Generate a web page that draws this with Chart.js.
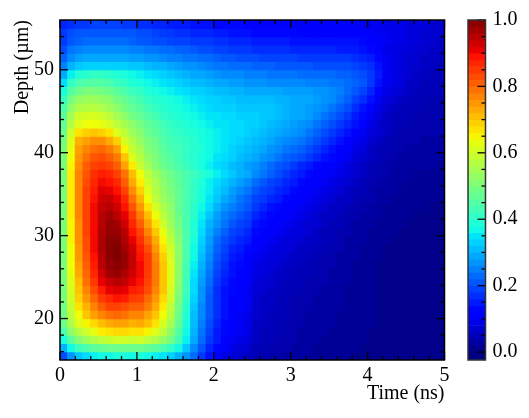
<!DOCTYPE html>
<html>
<head>
<meta charset="utf-8">
<style>
  html, body { margin: 0; padding: 0; background: #fff; overflow: hidden; }
  canvas { position: absolute; top: 0; }
  #heatmap { left: 0; }
  #colorbar { left: 445px; }
</style>
<script src="https://cdn.jsdelivr.net/npm/chart.js@4"></script>
</head>
<body>
<canvas id="heatmap" width="460" height="418"></canvas>
<canvas id="colorbar" width="84" height="418"></canvas>
<script>
// column centres, ns
const times = [0.05,0.15,0.25,0.35,0.45,0.55,0.65,0.75,0.85,0.95,1.05,1.15,1.25,1.35,1.45,1.55,1.65,1.75,1.85,1.95,2.05,2.15,2.25,2.35,2.45,2.55,2.65,2.75,2.85,2.95,3.05,3.15,3.25,3.35,3.45,3.55,3.65,3.75,3.85,3.95,4.05,4.15,4.25,4.35,4.45,4.55,4.65,4.75,4.85,4.95];
// lower edge of each row, um
const depths = [15,16,17,18,19,20,21,22,23,24,25,26,27,28,29,30,31,32,33,34,35,36,37,38,39,40,41,42,43,44,45,46,47,48,49,50,51,52,53,54,55];

// intensity in percent, one array per depth row
const d55 = [16,17,18,18,19,19,19,19,18,18,17,17,16,16,15,15,15,14,14,14,13,13,13,13,12,12,12,12,12,12,12,11,11,11,11,11,11,11,11,10,10,10,9,9,9,8,8,8,7,7];
const d54 = [18,20,21,21,21,21,21,21,21,21,20,20,19,18,18,17,17,16,16,16,15,15,14,14,14,13,13,13,13,13,13,12,12,12,12,12,12,12,11,11,11,10,10,9,9,8,8,7,7,7];
const d53 = [18,21,22,23,23,23,23,23,23,22,21,21,20,20,19,19,19,18,18,18,17,17,16,16,16,15,15,15,15,15,14,14,14,14,14,14,14,14,14,13,12,11,10,9,9,8,8,7,7,6];
const d52 = [20,24,25,26,26,26,26,26,26,25,25,24,24,23,23,22,22,21,20,20,19,19,18,18,18,17,17,17,17,17,16,16,16,16,16,16,15,15,15,14,13,11,9,9,8,8,7,7,6,6];
const d51 = [22,26,28,29,29,29,29,29,29,28,28,27,27,26,25,25,24,24,23,23,22,21,21,20,20,20,19,19,19,19,19,18,18,18,18,18,18,18,17,16,15,13,10,9,8,7,7,6,6,6];
const d50 = [25,30,32,33,33,33,33,33,33,32,32,31,30,30,29,28,27,27,26,25,24,24,23,23,23,22,22,22,21,21,21,21,21,20,20,20,20,20,19,18,17,14,10,9,8,7,7,6,6,5];
const d49 = [29,36,39,40,41,41,40,39,38,37,36,35,34,33,32,31,30,29,29,28,27,26,26,26,25,25,25,24,24,24,24,23,23,23,23,23,22,22,21,20,18,15,10,9,8,7,6,6,5,5];
const d48 = [34,41,44,45,45,45,44,42,41,39,38,37,36,35,34,33,32,31,31,30,29,29,28,28,27,27,27,26,26,26,26,26,25,25,25,24,24,23,22,21,18,14,10,9,8,6,6,5,5,5];
const d47 = [38,45,48,50,50,49,48,46,44,42,41,39,38,37,36,35,34,33,33,32,31,31,30,30,29,29,29,29,29,28,28,28,28,27,27,26,25,23,21,19,16,12,9,8,7,6,5,5,5,5];
const d46 = [41,49,53,54,54,53,52,49,47,45,43,41,40,39,38,37,36,35,34,33,33,32,32,31,31,31,31,31,30,30,29,29,29,28,27,26,24,22,19,17,14,10,8,7,6,5,5,5,4,4];
const d45 = [44,52,56,57,57,56,54,52,49,47,45,43,41,40,39,38,37,36,35,34,33,33,33,32,32,32,32,32,31,30,29,29,28,27,26,24,22,20,17,14,12,9,7,6,5,5,5,4,4,4];
const d44 = [46,55,60,61,61,60,58,55,52,49,47,45,43,41,40,39,38,37,36,35,35,34,34,33,33,33,32,32,31,30,29,29,28,26,24,22,20,18,15,13,10,8,6,5,5,5,4,4,4,4];
const d43 = [47,57,62,64,64,63,61,58,55,52,49,47,45,43,41,40,39,38,37,36,35,35,34,34,33,33,32,31,30,29,28,27,26,24,22,20,18,16,14,11,9,7,6,5,5,4,4,4,4,4];
const d42 = [48,60,67,69,70,69,67,62,58,54,51,48,46,44,42,41,40,39,38,37,36,35,34,34,33,32,31,30,29,28,27,26,24,22,20,18,16,14,12,10,8,7,6,5,4,4,4,4,4,4];
const d41 = [49,62,72,74,76,76,73,69,61,57,53,50,48,45,43,42,41,40,38,37,36,35,34,33,32,31,30,29,27,26,25,24,22,20,18,16,14,12,10,9,7,6,5,4,4,4,4,3,3,3];
const d40 = [50,63,74,77,79,80,78,74,65,59,55,51,49,46,44,43,41,40,39,37,36,35,33,32,31,30,29,27,26,24,23,22,20,18,16,14,12,11,9,8,6,5,5,4,4,3,3,3,3,3];
const d39 = [50,64,75,79,82,83,81,78,70,62,57,53,50,47,45,43,41,40,38,37,35,34,33,31,30,29,27,26,24,22,21,20,18,16,14,13,11,10,8,7,6,5,4,4,3,3,3,3,3,3];
const d38 = [50,65,76,81,84,85,84,81,74,66,59,55,51,48,46,44,42,40,38,36,34,33,31,30,28,27,25,23,21,20,18,16,15,13,12,11,10,8,7,6,5,4,4,3,3,3,3,3,3,2];
const d37 = [50,66,77,82,86,88,87,84,79,71,64,58,54,51,48,46,44,42,40,38,36,34,32,30,29,26,24,22,20,18,16,15,13,12,11,10,9,8,7,6,5,4,4,3,3,3,2,2,2,2];
const d36 = [50,66,77,83,87,90,89,87,81,73,66,60,56,52,49,46,44,41,39,36,34,32,30,28,26,23,21,19,18,16,15,13,12,11,10,9,8,7,6,5,4,4,3,3,3,2,2,2,2,2];
const d35 = [50,66,77,84,88,92,91,89,84,76,69,62,57,53,50,47,44,41,38,36,33,31,28,26,24,21,19,18,16,15,13,12,11,10,9,8,7,6,5,5,4,3,3,3,2,2,2,2,2,2];
const d34 = [50,66,77,84,89,93,94,91,87,79,72,64,58,54,51,47,44,41,38,35,32,29,27,24,22,19,18,16,15,13,12,11,10,9,8,7,6,6,5,4,4,3,3,2,2,2,2,2,2,2];
const d33 = [50,66,77,84,90,94,95,93,89,82,75,67,61,56,52,47,44,40,37,34,30,27,25,23,21,18,16,14,13,12,11,10,9,8,7,6,6,5,4,4,3,3,2,2,2,2,2,2,1,1];
const d32 = [50,66,77,84,90,95,97,95,91,85,78,71,64,58,53,48,44,40,36,32,28,25,23,21,19,16,14,13,12,11,10,9,8,7,6,6,5,4,4,3,3,3,2,2,2,2,1,1,1,1];
const d31 = [50,65,76,84,90,95,98,97,93,87,81,74,67,60,54,49,44,39,35,30,27,24,21,19,18,14,13,12,11,10,9,8,7,7,6,5,5,4,3,3,3,2,2,2,2,1,1,1,1,1];
const d30 = [50,65,76,84,90,96,98,98,95,89,84,77,70,63,56,50,44,39,34,29,25,22,19,18,16,13,12,11,10,9,8,8,7,6,5,5,4,4,3,3,2,2,2,2,1,1,1,1,1,1];
const d29 = [50,65,76,83,90,96,99,99,96,91,86,80,73,65,58,51,44,38,33,28,23,20,18,16,15,12,11,10,9,8,8,7,6,6,5,5,4,3,3,3,2,2,2,1,1,1,1,1,1,1];
const d28 = [50,64,75,83,90,96,99,100,97,93,88,83,75,67,60,52,44,37,32,27,22,19,16,15,13,11,10,9,8,8,7,6,6,5,5,4,4,3,3,2,2,2,1,1,1,1,1,1,1,1];
const d27 = [50,64,75,82,89,95,99,100,98,94,89,85,77,69,61,52,44,37,31,26,21,18,15,14,12,10,9,8,8,7,6,6,5,5,4,4,3,3,3,2,2,2,1,1,1,1,1,1,1,1];
const d26 = [50,64,74,81,88,95,98,99,98,94,90,85,78,70,62,52,43,36,30,25,20,17,14,13,12,9,8,8,7,6,6,5,5,4,4,4,3,3,2,2,2,1,1,1,1,1,1,1,1,1];
const d25 = [50,63,73,80,87,93,97,98,96,93,90,85,78,70,62,52,43,35,29,24,19,16,14,12,11,9,8,7,6,6,5,5,5,4,4,3,3,3,2,2,2,1,1,1,1,1,1,1,1,1];
const d24 = [50,62,71,79,85,91,94,95,94,91,89,84,78,70,62,52,42,34,28,23,18,15,13,12,11,8,7,7,6,5,5,5,4,4,4,3,3,3,2,2,2,1,1,1,1,1,1,1,1,1];
const d23 = [50,61,70,77,83,88,91,92,91,88,87,83,77,70,61,51,42,34,27,22,17,14,13,11,10,8,7,6,6,5,5,4,4,4,3,3,3,2,2,2,2,1,1,1,1,1,1,1,1,1];
const d22 = [50,60,69,75,80,85,87,89,88,85,84,80,75,68,60,50,41,33,27,21,17,14,12,11,10,7,6,6,5,5,4,4,4,3,3,3,3,2,2,2,2,1,1,1,1,1,1,1,1,1];
const d21 = [49,59,67,72,77,81,84,84,83,81,81,78,73,66,58,49,40,32,26,21,17,14,12,11,10,7,6,6,5,5,4,4,4,3,3,3,3,2,2,2,2,1,1,1,1,1,1,1,1,1];
const d20 = [49,58,64,70,74,77,79,80,79,77,77,74,70,64,57,48,39,31,26,21,17,14,12,10,9,7,6,5,5,5,4,4,3,3,3,3,2,2,2,2,2,1,1,1,1,1,1,1,1,1];
const d19 = [48,56,62,65,68,71,73,74,74,72,73,71,67,61,55,47,38,31,25,20,16,13,11,10,9,6,6,5,5,4,4,4,3,3,3,3,2,2,2,2,2,1,1,1,1,1,1,1,1,1];
const d18 = [44,52,57,60,63,66,67,68,68,67,67,65,62,58,52,45,37,30,24,19,15,13,11,10,9,6,5,5,5,4,4,3,3,3,3,2,2,2,2,2,1,1,1,1,1,1,1,1,1,1];
const d17 = [38,46,51,54,56,58,59,60,60,59,60,58,56,53,49,43,36,29,23,18,15,12,10,9,8,6,5,5,4,4,4,3,3,3,2,2,2,2,2,2,1,1,1,1,1,1,1,1,1,1];
const d16 = [30,37,42,44,46,47,48,48,48,48,48,47,46,44,41,37,32,26,21,16,13,11,9,8,7,5,5,4,4,4,3,3,3,2,2,2,2,2,2,1,1,1,1,1,1,1,1,1,1,1];
const d15 = [20,27,32,34,36,37,37,38,38,37,38,37,36,35,33,30,27,23,18,14,11,9,8,7,6,5,4,4,4,3,3,3,3,2,2,2,2,2,1,1,1,1,1,1,1,1,1,1,1,1];
const rows = [d15,d16,d17,d18,d19,d20,d21,d22,d23,d24,d25,d26,d27,d28,d29,d30,d31,d32,d33,d34,d35,d36,d37,d38,d39,d40,d41,d42,d43,d44,d45,d46,d47,d48,d49,d50,d51,d52,d53,d54,d55];

// tick labels and tick marks
const xMajor = [0,1,2,3,4,5];
const xMinor = [0.2,0.4,0.6,0.8,1.2,1.4,1.6,1.8,2.2,2.4,2.6,2.8,3.2,3.4,3.6,3.8,4.2,4.4,4.6,4.8];
const yMajor = [20,30,40,50];
const yMinor = [16,18,22,24,26,28,32,34,36,38,42,44,46,48,52,54];
const cbMajor = [0,0.2,0.4,0.6,0.8,1];
const cbMinor = [0.05,0.1,0.15,0.25,0.3,0.35,0.45,0.5,0.55,0.65,0.7,0.75,0.85,0.9,0.95];
// colour bar steps
const cbLevels = [-0.024,0,0.02,0.04,0.06,0.08,0.1,0.12,0.14,0.16,0.18,0.2,0.22,0.24,0.26,0.28,0.3,0.32,0.34,0.36,0.38,0.4,0.42,0.44,0.46,0.48,0.5,0.52,0.54,0.56,0.58,0.6,0.62,0.64,0.66,0.68,0.7,0.72,0.74,0.76,0.78,0.8,0.82,0.84,0.86,0.88,0.9,0.92,0.94,0.96,0.98,1];

const FONT = { family: "'Liberation Serif', 'Times New Roman', serif", size: 20 };
const MAJOR_LEN = 8, MINOR_LEN = 4;

Chart.defaults.color = '#000';
Chart.defaults.font.family = FONT.family;
Chart.defaults.font.size = FONT.size;

// jet colormap
const ramp = (v, pts) => {
    for (let i = 1; i < pts.length; i++) {
        if (v <= pts[i][0]) {
            const [x0, y0] = pts[i - 1], [x1, y1] = pts[i];
            return y0 + (y1 - y0) * (v - x0) / (x1 - x0);
        }
    }
    return pts[pts.length - 1][1];
};
const jet = (v) => {
    v = Math.max(0, Math.min(1, v));
    const r = ramp(v, [[0, 0], [0.35, 0], [0.66, 1], [0.89, 1], [1, 0.5]]);
    const g = ramp(v, [[0, 0], [0.125, 0], [0.375, 1], [0.64, 1], [0.91, 0], [1, 0]]);
    const b = ramp(v, [[0, 0.5], [0.11, 1], [0.34, 1], [0.65, 0], [1, 0]]);
    return `rgb(${Math.round(r * 255)},${Math.round(g * 255)},${Math.round(b * 255)})`;
};

// matplotlib style ticks pointing into the plot, plus the frame
const drawTick = (ctx, x1, y1, x2, y2) => {
    ctx.beginPath();
    ctx.moveTo(x1, y1);
    ctx.lineTo(x2, y2);
    ctx.stroke();
};
const heatFrame = {
    id: 'heatFrame',
    afterDatasetsDraw(chart) {
        const { ctx, chartArea: a, scales: { x, y } } = chart;
        ctx.save();
        ctx.strokeStyle = '#000';
        ctx.lineWidth = 1.3;
        const xTicks = (vals, len) => vals.forEach(v => {
            const px = x.getPixelForValue(v);
            drawTick(ctx, px, a.bottom, px, a.bottom - len);
            drawTick(ctx, px, a.top, px, a.top + len);
        });
        const yTicks = (vals, len) => vals.forEach(v => {
            const py = y.getPixelForValue(v);
            drawTick(ctx, a.left, py, a.left + len, py);
            drawTick(ctx, a.right, py, a.right - len, py);
        });
        xTicks(xMajor, MAJOR_LEN);
        xTicks(xMinor, MINOR_LEN);
        yTicks(yMajor, MAJOR_LEN);
        yTicks(yMinor, MINOR_LEN);
        ctx.lineWidth = 1.5;
        ctx.strokeRect(a.left, a.top, a.right - a.left, a.bottom - a.top);
        ctx.restore();
    }
};
const barFrame = {
    id: 'barFrame',
    afterDatasetsDraw(chart) {
        const { ctx, chartArea: a, scales: { y } } = chart;
        ctx.save();
        ctx.strokeStyle = '#000';
        ctx.lineWidth = 1.3;
        cbMajor.forEach(v => drawTick(ctx, a.right, y.getPixelForValue(v), a.right - MAJOR_LEN, y.getPixelForValue(v)));
        cbMinor.forEach(v => drawTick(ctx, a.right, y.getPixelForValue(v), a.right - MINOR_LEN, y.getPixelForValue(v)));
        ctx.strokeStyle = '#333';
        ctx.lineWidth = 1.5;
        ctx.strokeRect(a.left, a.top, a.right - a.left, a.bottom - a.top);
        ctx.restore();
    }
};

// Heatmap, one floating bar per cell
const cells = [];
rows.forEach((row, r) => {
    row.forEach((v, c) => cells.push({ x: times[c], y: [depths[r], depths[r] + 1], v: v / 100 }));
});

new Chart(document.getElementById('heatmap'), {
    type: 'bar',
    data: {
        datasets: [{
            data: cells,
            backgroundColor: (c) => c.raw ? jet(c.raw.v) : '#000',
            borderWidth: 0,
            inflateAmount: 0.6,
            barPercentage: 1,
            categoryPercentage: 1
        }]
    },
    options: {
        responsive: false,
        animation: false,
        events: [],
        layout: { autoPadding: false, padding: { top: 20, right: 15.5 } },
        plugins: { legend: { display: false }, tooltip: { enabled: false } },
        scales: {
            x: {
                type: 'linear',
                min: 0,
                max: 5,
                offset: false,
                grid: { display: false, drawTicks: false },
                border: { display: false },
                afterBuildTicks: (s) => { s.ticks = xMajor.map(value => ({ value })); },
                afterFit: (s) => { s.height = 58; },
                ticks: { padding: 4, maxRotation: 0, autoSkip: false },
                title: { display: true, text: 'Time (ns)', align: 'end', padding: { top: 0, bottom: 12 } }
            },
            y: {
                type: 'linear',
                min: 15,
                max: 56,
                grid: { display: false, drawTicks: false },
                border: { display: false },
                afterBuildTicks: (s) => { s.ticks = yMajor.map(value => ({ value })); },
                afterFit: (s) => { s.width = 60; },
                ticks: { padding: 6, autoSkip: false },
                title: { display: true, text: 'Depth (µm)', align: 'end', padding: { top: 11, bottom: 0 } }
            }
        }
    },
    plugins: [heatFrame]
});

// Colour bar
const steps = cbLevels.slice(0, -1).map((lo, i) => ({ x: 'c', y: [lo, cbLevels[i + 1]], v: (lo + cbLevels[i + 1]) / 2 }));

new Chart(document.getElementById('colorbar'), {
    type: 'bar',
    data: {
        labels: ['c'],
        datasets: [{
            data: steps,
            backgroundColor: (c) => c.raw ? jet(c.raw.v) : '#000',
            borderWidth: 0,
            barPercentage: 1,
            categoryPercentage: 1
        }]
    },
    options: {
        responsive: false,
        animation: false,
        events: [],
        layout: { autoPadding: false, padding: { top: 20, bottom: 58, left: 23 } },
        plugins: { legend: { display: false }, tooltip: { enabled: false } },
        scales: {
            x: { type: 'category', display: false, offset: true },
            y: {
                type: 'linear',
                position: 'right',
                min: -0.024,
                max: 1,
                grid: { display: false, drawTicks: false },
                border: { display: false },
                afterBuildTicks: (s) => { s.ticks = cbMajor.map(value => ({ value })); },
                afterFit: (s) => { s.width = 43.5; },
                ticks: { padding: 7, autoSkip: false, callback: (v) => Number(v).toFixed(1) }
            }
        }
    },
    plugins: [barFrame]
});
</script>
</body>
</html>
